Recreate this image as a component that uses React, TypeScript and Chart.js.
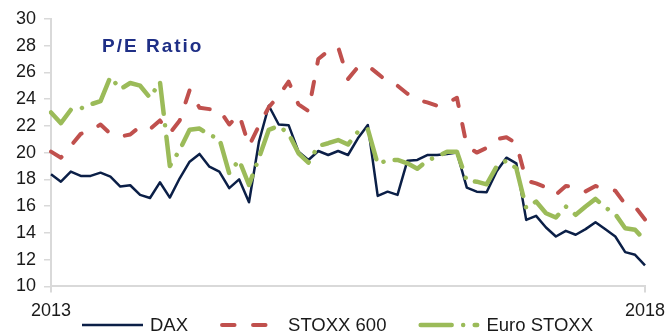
import React, { useEffect, useRef } from 'react';
import { Chart, registerables } from 'chart.js';

Chart.register(...registerables);

// Monthly categories Jan 2013 .. Jan 2018
const months: string[] = [];
for (let y = 2013; y <= 2018; y++) {
  for (let m = 1; m <= 12; m++) {
    if (y === 2018 && m > 1) break;
    months.push(`${y}-${String(m).padStart(2, '0')}`);
  }
}

const xTickLabels = ['2013', '2018'];
const titleText = 'P/E Ratio';
const seriesLabels = ['DAX', 'STOXX 600', 'Euro STOXX'];

const dax = [
  18.38, 17.83, 18.58, 18.26, 18.26, 18.5, 18.2, 17.46, 17.56, 16.84,
  16.61, 17.78, 16.64, 18.08, 19.32, 19.9, 18.95, 18.58, 17.34, 18.0,
  16.29, 20.8, 23.5, 22.1, 22.05, 20.07, 19.45, 20.12, 19.82, 20.12,
  19.82, 21.07, 22.06, 16.76, 17.08, 16.84, 19.4, 19.45, 19.82, 19.82,
  19.9, 20.0, 17.38, 17.08, 17.04, 18.58, 19.62, 19.2, 14.97, 15.27,
  14.4, 13.73, 14.15, 13.86, 14.28, 14.8, 14.27, 13.73, 12.56, 12.36, 11.57,
];

const stoxx600 = [
  20.07, 19.62, 20.5, 21.4, 21.65, 22.1, 21.4, 21.2, 21.35, 21.95,
  21.75, 22.4, 21.45, 22.4, 24.67, 23.35, 23.25, 23.2, 22.1, 22.86,
  20.5, 22.0, 23.4, 24.25, 25.3, 23.6, 23.1, 27.0, 27.6, 27.9,
  25.5, 26.4, 26.5, 25.9, 25.3, 25.0, 24.4, 23.95, 23.75, 23.5,
  23.7, 24.1, 20.5, 20.0, 20.35, 21.0, 21.15, 20.7, 17.9, 17.7,
  17.4, 16.85, 17.5, 17.4, 17.1, 17.5, 17.3, 17.15, 16.15, 15.95, 15.0,
];

const euroStoxx = [
  23.0, 22.2, 23.2, 23.3, 23.6, 23.85, 25.66, 24.74, 25.2, 25.0,
  24.1, 25.3, 19.0, 20.2, 21.7, 21.8, 21.3, 21.07, 18.45, 19.45,
  17.58, 19.6, 21.7, 22.0, 21.4, 19.95, 19.25, 20.5, 20.7, 20.94,
  20.6, 21.56, 21.75, 19.13, 19.45, 19.45, 19.2, 18.8, 19.4, 19.7,
  20.07, 20.07, 17.88, 17.83, 17.63, 18.95, 19.4, 18.83, 15.85, 16.34,
  15.47, 15.15, 15.97, 15.35, 15.97, 16.54, 15.9, 15.4, 14.35, 14.23, 13.43,
];

const FONT = '"Liberation Sans", Arial, sans-serif';
const NAVY = '#0b1f47';
const RED = '#c0504d';
const GREEN = '#9bbb59';
const TITLE_COLOR = '#1f2f86';
const AXIS_GREY = '#d9d9d9';
const TEXT = '#1a1a1a';

const overlayPlugin = {
  id: 'overlay',
  afterDraw(chart: any) {
    const ctx = chart.ctx as CanvasRenderingContext2D;
    const area = chart.chartArea;
    ctx.save();
    // title inside plot
    ctx.font = `bold 19px ${FONT}`;
    (ctx as any).letterSpacing = '2px';
    ctx.fillStyle = TITLE_COLOR;
    ctx.textBaseline = 'alphabetic';
    ctx.textAlign = 'left';
    ctx.fillText(titleText, area.left + 51, area.top + 33);
    (ctx as any).letterSpacing = '0px';

    // legend
    let x = 82;
    const y = 325;
    const sampleW = 61;
    ctx.font = `18.5px ${FONT}`;
    chart.data.datasets.forEach((ds: any) => {
      ctx.save();
      ctx.strokeStyle = ds.borderColor;
      ctx.lineWidth = ds.borderWidth;
      ctx.setLineDash(ds.borderDash || []);
      ctx.lineCap = ds.borderDash ? 'round' : 'butt';
      ctx.beginPath();
      const inset = ds.borderDash ? ds.borderWidth / 2 : 0;
      ctx.moveTo(x + inset, y);
      ctx.lineTo(x + sampleW - inset, y);
      ctx.stroke();
      ctx.restore();
      ctx.fillStyle = TEXT;
      ctx.textBaseline = 'middle';
      ctx.textAlign = 'left';
      ctx.fillText(ds.label, x + 68, y + 0.5);
      x += 68 + ctx.measureText(ds.label).width + 32;
    });
    ctx.restore();
  },
};

export default function App() {
  const ref = useRef<HTMLCanvasElement>(null);
  useEffect(() => {
    const last = months.length - 1;
    const chart = new Chart(ref.current!, {
      type: 'line',
      data: {
        labels: months,
        datasets: [
          {
            label: seriesLabels[0],
            data: dax,
            borderColor: NAVY,
            backgroundColor: NAVY,
            borderWidth: 2.5,
            borderJoinStyle: 'round',
            pointRadius: 0,
            tension: 0,
            order: 3,
          },
          {
            label: seriesLabels[1],
            data: stoxx600,
            borderColor: RED,
            backgroundColor: RED,
            borderWidth: 4,
            borderDash: [12.5, 18.5],
            borderCapStyle: 'round',
            borderJoinStyle: 'round',
            pointRadius: 0,
            tension: 0,
            order: 2,
          },
          {
            label: seriesLabels[2],
            data: euroStoxx,
            borderColor: GREEN,
            backgroundColor: GREEN,
            borderWidth: 4.5,
            borderDash: [31, 11.5, 0.01, 11.5],
            borderCapStyle: 'round',
            borderJoinStyle: 'round',
            pointRadius: 0,
            tension: 0,
            order: 1,
          },
        ],
      } as any,
      options: {
        responsive: false,
        animation: false,
        events: [],
        layout: { padding: { left: 8, right: 24, top: 18, bottom: 4 } },
        plugins: {
          legend: { display: false },
          tooltip: { enabled: false },
          title: { display: false },
        },
        scales: {
          x: {
            type: 'category',
            offset: false,
            afterFit: (s: any) => {
              s.paddingRight = 0;
              s.paddingLeft = 0;
            },
            grid: {
              drawOnChartArea: false,
              drawTicks: true,
              tickLength: 6,
              lineWidth: 2,
              color: (c: any) => (c.index === 0 || c.index === last ? AXIS_GREY : 'rgba(0,0,0,0)'),
            },
            border: { display: true, color: AXIS_GREY, width: 2 },
            ticks: {
              autoSkip: false,
              maxRotation: 0,
              minRotation: 0,
              padding: 8,
              color: TEXT,
              font: { family: FONT, size: 18 },
              callback: (_v: any, i: number) => (i === 0 ? xTickLabels[0] : i === last ? xTickLabels[1] : ''),
            },
          },
          y: {
            min: 10,
            max: 30,
            grid: {
              drawOnChartArea: false,
              drawTicks: true,
              tickLength: 7,
              lineWidth: 1.5,
              color: AXIS_GREY,
            },
            border: { display: true, color: AXIS_GREY, width: 2 },
            ticks: {
              stepSize: 2,
              padding: 8,
              color: TEXT,
              font: { family: FONT, size: 18 },
            },
          },
        },
      } as any,
      plugins: [overlayPlugin],
    });
    return () => chart.destroy();
  }, []);

  return (
    <div style={{ position: 'absolute', left: 0, top: 0, width: 669, height: 334 }}>
      <canvas ref={ref} width={669} height={334} style={{ display: 'block' }} />
    </div>
  );
}
